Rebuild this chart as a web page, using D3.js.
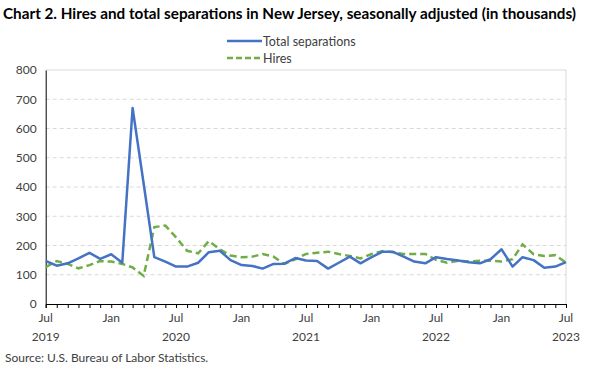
<!DOCTYPE html>
<html><head><meta charset="utf-8">
<script src="https://cdn.jsdelivr.net/npm/d3@7"></script>
<style>body{margin:0;background:#fff;}svg{display:block;font-family:Lato,"Open Sans",sans-serif;}</style>
</head><body><svg id="c" width="600" height="369"></svg>
<script>
const months = d3.range(49).map(i => new Date(2019, 6 + i, 1));
const totalSeparations = [147,131,139,156,175,154,170,141,670,412,160,145,128,128,141,177,182,150,133,130,121,137,138,157,149,147,121,141,162,139,160,179,179,162,145,139,160,154,149,143,139,153,187,128,160,150,124,128,143];
const hires = [126,147,137,122,133,147,145,137,125,96,263,268,228,182,173,215,187,166,160,162,171,162,137,153,171,175,179,171,164,156,171,181,177,171,171,171,151,141,148,145,148,148,145,153,204,170,164,167,141];
const yTicks = [0,100,200,300,400,500,600,700,800];
const seriesNames = ["Total separations","Hires"];

const svg = d3.select("#c");
const m = {l:45.7, r:566, t:70, b:304};
const x = d3.scaleTime().domain([months[0], months[48]]).range([m.l, m.r]);
const y = d3.scaleLinear().domain([0,800]).range([m.b, m.t]);

svg.append("text").attr("x",3).attr("y",19).attr("font-weight","bold").attr("font-size",14.3)
  .attr("textLength",573).attr("lengthAdjust","spacingAndGlyphs")
  .attr("fill","#000").text("Chart 2. Hires and total separations in New Jersey, seasonally adjusted (in thousands)");

// gridlines
svg.append("g").selectAll("line").data(yTicks.filter(v=>v>0 && v<800)).join("line")
  .attr("x1",m.l).attr("x2",m.r).attr("y1",d=>y(d)).attr("y2",d=>y(d))
  .attr("stroke","#d9d9d9").attr("stroke-dasharray","4,3");
// plot border top/right
svg.append("path").attr("d",`M${m.l},${y(800)}H${m.r}V${m.b}`).attr("fill","none").attr("stroke","#d9d9d9");

// y axis
const ya = svg.append("g").attr("transform",`translate(${m.l},0)`)
  .call(d3.axisLeft(y).tickValues(yTicks).tickSize(0).tickPadding(9));
ya.select(".domain").attr("stroke","#000");
ya.selectAll("text").attr("font-size",12).attr("fill","#404040").attr("font-family","Lato,'Open Sans',sans-serif");

// x axis
const xa = svg.append("g").attr("transform",`translate(0,${m.b})`)
  .call(d3.axisBottom(x).tickValues(months).tickSize(4).tickFormat(""));
xa.select(".domain").attr("stroke","#000");
xa.selectAll(".tick line").attr("stroke","#000");
const labelMonths = months.filter(d => d.getMonth()===0 || d.getMonth()===6);
svg.append("g").selectAll("text").data(labelMonths).join("text")
  .attr("x",d=>x(d)).attr("y",322).attr("text-anchor","middle").attr("font-size",12).attr("fill","#404040")
  .text(d=>d3.timeFormat("%b")(d));
svg.append("g").selectAll("text").data(months.filter(d=>d.getMonth()===6)).join("text")
  .attr("x",d=>x(d)).attr("y",341).attr("text-anchor","middle").attr("font-size",12).attr("fill","#404040")
  .text(d=>d.getFullYear());

const line = d3.line().x((d,i)=>x(months[i])).y(d=>y(d));
svg.append("path").datum(hires).attr("d",line).attr("fill","none").attr("stroke","#70AD47")
  .attr("stroke-width",2.5).attr("stroke-dasharray","7,4");
svg.append("path").datum(totalSeparations).attr("d",line).attr("fill","none").attr("stroke","#4472C4")
  .attr("stroke-width",2.5).attr("stroke-linejoin","round");

// legend
const lg = svg.append("g");
[["#4472C4",null,41],["#70AD47","6,3",58]].forEach((s,i)=>{
  lg.append("line").attr("x1",227).attr("x2",262).attr("y1",s[2]).attr("y2",s[2])
    .attr("stroke",s[0]).attr("stroke-width",2.5).attr("stroke-dasharray",s[1]);
  lg.append("text").attr("x",263).attr("y",s[2]+4.5).attr("font-size",12.5).attr("fill","#404040").text(seriesNames[i]);
});

svg.append("text").attr("x",5).attr("y",362).attr("font-size",12).attr("fill","#404040").text("Source: U.S. Bureau of Labor Statistics.");
</script></body></html>
